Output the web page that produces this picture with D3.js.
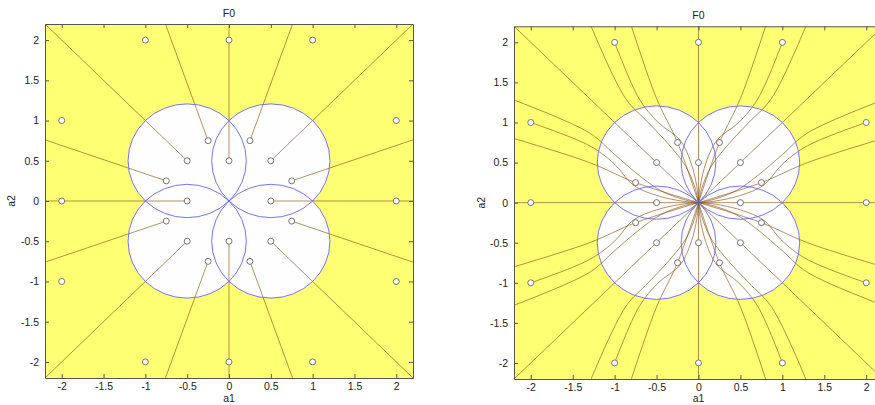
<!DOCTYPE html>
<html>
<head>
<meta charset="utf-8">
<script src="https://cdn.jsdelivr.net/npm/d3@7/dist/d3.min.js"></script>
<style>
  body { margin: 0; background: #fff; }
  svg { display: block; }
  text { font-family: "Liberation Sans", Arial, sans-serif; font-size: 10.5px; fill: #222; }
</style>
</head>
<body>
<svg id="chart" width="875" height="405"></svg>
<script>
// axis ticks (both panels)
const tickValues = [-2, -1.5, -1, -0.5, 0, 0.5, 1, 1.5, 2];
const axisLimits = [-2.2, 2.2];

// white region: four circles through the origin
const regionCenters = [[-0.5, 0.5], [0.5, 0.5], [-0.5, -0.5], [0.5, -0.5]];
const regionRadius = 0.7071;

// start points
const outerPoints = [[-1, 2], [0, 2], [1, 2], [-2, 1], [2, 1], [-2, 0], [2, 0],
  [-2, -1], [2, -1], [-1, -2], [0, -2], [1, -2]];
const innerPoints = [[-0.25, 0.75], [0, 0.5], [0.25, 0.75], [-0.5, 0.5], [0.5, 0.5],
  [-0.75, 0.25], [0.75, 0.25], [-0.5, 0], [0.5, 0], [-0.75, -0.25], [0.75, -0.25],
  [-0.5, -0.5], [0.5, -0.5], [-0.25, -0.75], [0, -0.5], [0.25, -0.75]];

// left panel: trajectories leaving the inner points
const leftTrajectories = [
  [[0, 0.5], [0, 2.2]], [[0, -0.5], [0, -2.2]], [[-0.5, 0], [-2.2, 0]], [[0.5, 0], [2.2, 0]],
  [[-0.5, 0.5], [-2.2, 2.2]], [[0.5, 0.5], [2.2, 2.2]], [[-0.5, -0.5], [-2.2, -2.2]], [[0.5, -0.5], [2.2, -2.2]],
  [[-0.25, 0.75], [-0.76, 2.2]], [[0.25, 0.75], [0.76, 2.2]], [[-0.25, -0.75], [-0.76, -2.2]], [[0.25, -0.75], [0.76, -2.2]],
  [[-0.75, 0.25], [-2.2, 0.76]], [[0.75, 0.25], [2.2, 0.76]], [[-0.75, -0.25], [-2.2, -0.76]], [[0.75, -0.25], [2.2, -0.76]]
];

// right panel: axis trajectories
const rightAxisTrajectories = [
  [[0, 2.2], [0, 0]], [[0, -2.2], [0, 0]], [[-2.2, 0], [0, 0]], [[2.2, 0], [0, 0]]
];
// right panel: upper-left quadrant trajectories (picture is mirror symmetric in both axes)
const rightQuadrantTrajectories = [
  [[-2.2, 2.2], [0, 0]],
  [[-0.8, 2.2], [-0.5, 1.3], [-0.25, 0.75], [0, 0]],
  [[-1.28, 2.2], [-0.87, 1.3], [-0.6, 1.0], [-0.35, 0.72], [-0.15, 0.45], [-0.04, 0.18], [0, 0]],
  [[-1, 2], [-0.71, 1.3], [-0.48, 1.0], [-0.22, 0.78], [-0.09, 0.5], [-0.02, 0.2], [0, 0]],
  [[-2.2, 0.8], [-1.3, 0.5], [-0.75, 0.25], [0, 0]],
  [[-2.2, 1.28], [-1.3, 0.87], [-1.0, 0.6], [-0.72, 0.35], [-0.45, 0.15], [-0.18, 0.04], [0, 0]],
  [[-2, 1], [-1.3, 0.71], [-1.0, 0.48], [-0.78, 0.22], [-0.5, 0.09], [-0.2, 0.02], [0, 0]]
];
const mirrors = [[1, 1], [-1, 1], [1, -1], [-1, -1]];
const rightTrajectories = rightAxisTrajectories.concat(
  ...mirrors.map(([sx, sy]) => rightQuadrantTrajectories.map(t => t.map(([a, b]) => [sx * a, sy * b])))
);

const panels = [
  {id: 'L', x0: 45, x1: 413, y0: 24, y1: 378, titleY: 17, labelX: 15, lines: leftTrajectories, curve: d3.curveLinear},
  {id: 'R', x0: 514, x1: 883, y0: 26.3, y1: 379, titleY: 19, labelX: 485, lines: rightTrajectories, curve: d3.curveCatmullRom.alpha(0.5)}
];

const svg = d3.select('#chart');
const fmt = d => String(d);

panels.forEach(p => {
  const x = d3.scaleLinear().domain(axisLimits).range([p.x0, p.x1]);
  const y = d3.scaleLinear().domain(axisLimits).range([p.y1, p.y0]);
  const g = svg.append('g');

  g.append('clipPath').attr('id', 'clip' + p.id)
    .append('rect')
    .attr('x', p.x0).attr('y', p.y0)
    .attr('width', p.x1 - p.x0).attr('height', p.y1 - p.y0);

  const plot = g.append('g').attr('clip-path', `url(#clip${p.id})`);

  plot.append('rect')
    .attr('x', p.x0).attr('y', p.y0)
    .attr('width', p.x1 - p.x0).attr('height', p.y1 - p.y0)
    .attr('fill', '#ffff73');

  const rx = x(regionRadius) - x(0);
  const ry = y(0) - y(regionRadius);

  plot.selectAll('.fillc')
    .data(regionCenters)
    .enter()
    .append('ellipse')
    .attr('cx', d => x(d[0])).attr('cy', d => y(d[1]))
    .attr('rx', rx).attr('ry', ry)
    .attr('fill', '#fefefe');

  const line = d3.line().x(d => x(d[0])).y(d => y(d[1])).curve(p.curve);

  plot.selectAll('.traj')
    .data(p.lines)
    .enter()
    .append('path')
    .attr('d', line)
    .attr('fill', 'none')
    .attr('stroke', '#8a561c')
    .attr('stroke-opacity', 0.65)
    .attr('stroke-width', 1);

  plot.selectAll('.edgec')
    .data(regionCenters)
    .enter()
    .append('ellipse')
    .attr('cx', d => x(d[0])).attr('cy', d => y(d[1]))
    .attr('rx', rx).attr('ry', ry)
    .attr('fill', 'none')
    .attr('stroke', '#6464ff')
    .attr('stroke-width', 0.9);

  plot.selectAll('.pt')
    .data(outerPoints.concat(innerPoints))
    .enter()
    .append('circle')
    .attr('cx', d => x(d[0])).attr('cy', d => y(d[1]))
    .attr('r', 3)
    .attr('fill', '#fff')
    .attr('stroke', '#555')
    .attr('stroke-width', 0.8);

  // axes, MATLAB style box with inward ticks
  const styleAxis = sel => {
    sel.selectAll('path.domain').attr('stroke', '#555');
    sel.selectAll('.tick line').attr('stroke', '#555');
    sel.selectAll('text').attr('fill', '#222').style('font-size', '10.5px')
      .style('font-family', '"Liberation Sans", Arial, sans-serif');
  };

  g.append('g').attr('transform', `translate(0,${p.y1})`)
    .call(d3.axisBottom(x).tickValues(tickValues).tickFormat(fmt).tickSizeInner(-4).tickSizeOuter(0).tickPadding(5))
    .call(styleAxis);
  g.append('g').attr('transform', `translate(0,${p.y0})`)
    .call(d3.axisTop(x).tickValues(tickValues).tickFormat('').tickSizeInner(-4).tickSizeOuter(0))
    .call(styleAxis);
  g.append('g').attr('transform', `translate(${p.x0},0)`)
    .call(d3.axisLeft(y).tickValues(tickValues).tickFormat(fmt).tickSizeInner(-4).tickSizeOuter(0).tickPadding(6))
    .call(styleAxis);
  g.append('g').attr('transform', `translate(${p.x1},0)`)
    .call(d3.axisRight(y).tickValues(tickValues).tickFormat('').tickSizeInner(-4).tickSizeOuter(0))
    .call(styleAxis);

  const cx = x(0);
  g.append('text').attr('x', cx).attr('y', p.titleY).attr('text-anchor', 'middle').text('F0');
  g.append('text').attr('x', cx).attr('y', 402).attr('text-anchor', 'middle').text('a1');
  g.append('text')
    .attr('transform', `translate(${p.labelX},${y(0)}) rotate(-90)`)
    .attr('text-anchor', 'middle')
    .text('a2');
});
</script>
</body>
</html>
